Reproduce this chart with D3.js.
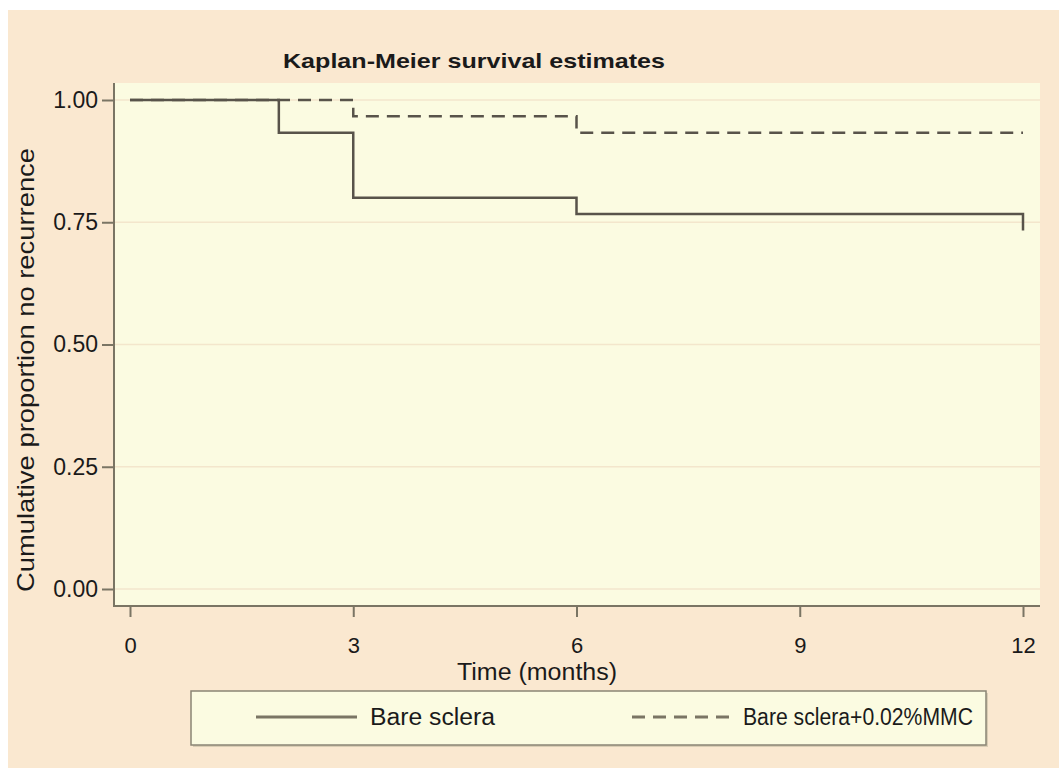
<!DOCTYPE html>
<html>
<head>
<meta charset="utf-8">
<script src="https://cdn.jsdelivr.net/npm/d3@7"></script>
<style>
  body { margin: 0; background: #fff; }
  text { font-family: "Liberation Sans", Arial, sans-serif; fill: #1a1a1a; }
</style>
</head>
<body>
<div id="chart-area"></div>
<script>
// Kaplan-Meier step data (time in months, proportion with no recurrence)
const bareTimes = [0, 2, 3, 6, 12];
const bareSurv = [1, 0.933, 0.8, 0.767, 0.733];
const mmcTimes = [0, 3, 6, 12];
const mmcSurv = [1, 0.967, 0.933, 0.933];

const xTicks = [0, 3, 6, 9, 12];
const yTicks = [0, 0.25, 0.5, 0.75, 1];
const seriesNames = ["Bare sclera", "Bare sclera+0.02%MMC"];

let svgW = 1059;
let svgH = 771;

let plot = { left: 114, right: 1040, top: 83, bottom: 606 };

let x = d3.scaleLinear().domain([0, 12]).range([130, 1023]);
let y = d3.scaleLinear().domain([0, 1]).range([589, 100]);

let svg = d3.select("#chart-area")
  .append("svg")
  .attr("width", svgW)
  .attr("height", svgH)

// outer background
svg.append("rect")
  .attr("x", 8).attr("y", 10)
  .attr("width", svgW - 8).attr("height", svgH - 13)
  .attr("fill", "#fae8d0")

// plot region
svg.append("rect")
  .attr("x", plot.left).attr("y", plot.top)
  .attr("width", plot.right - plot.left).attr("height", plot.bottom - plot.top)
  .attr("fill", "#fbfbe1")

// gridlines
svg.append("g").selectAll("line")
  .data(yTicks)
  .join("line")
  .attr("x1", plot.left).attr("x2", plot.right)
  .attr("y1", d => y(d)).attr("y2", d => y(d))
  .attr("stroke", "#f3e6cc")
  .attr("stroke-width", 1.5)

// title
svg.append("text")
  .attr("x", 283).attr("y", 68)
  .attr("font-size", 21)
  .attr("font-weight", "bold")
  .attr("textLength", 382)
  .attr("lengthAdjust", "spacingAndGlyphs")
  .text("Kaplan-Meier survival estimates")

// y axis
let yAxis = d3.axisLeft(y)
  .tickValues(yTicks)
  .tickFormat(d3.format(".2f"))
  .tickSize(12)
  .tickPadding(4)

let gy = svg.append("g")
  .attr("transform", `translate(${plot.left},0)`)
  .call(yAxis)
gy.select(".domain").remove()
gy.selectAll(".tick line").attr("stroke", "#7a7564").attr("stroke-width", 2)
gy.selectAll(".tick text").attr("font-size", 23).attr("fill", "#1a1a1a")

// x axis
let xAxis = d3.axisBottom(x)
  .tickValues(xTicks)
  .tickSize(11)
  .tickPadding(20)

let gx = svg.append("g")
  .attr("transform", `translate(0,${plot.bottom})`)
  .call(xAxis)
gx.select(".domain").remove()
gx.selectAll(".tick line").attr("stroke", "#7a7564").attr("stroke-width", 2)
gx.selectAll(".tick text").attr("font-size", 22).attr("fill", "#1a1a1a")

// axis frame lines
svg.append("path")
  .attr("d", `M${plot.left},${plot.top}V${plot.bottom}H${plot.right}`)
  .attr("fill", "none")
  .attr("stroke", "#7a7564")
  .attr("stroke-width", 2)

// axis titles
svg.append("text")
  .attr("transform", `translate(34,370) rotate(-90)`)
  .attr("text-anchor", "middle")
  .attr("font-size", 24)
  .attr("textLength", 444)
  .attr("lengthAdjust", "spacingAndGlyphs")
  .text("Cumulative proportion no recurrence")

svg.append("text")
  .attr("x", 537).attr("y", 680)
  .attr("text-anchor", "middle")
  .attr("font-size", 23)
  .attr("textLength", 160)
  .attr("lengthAdjust", "spacingAndGlyphs")
  .text("Time (months)")

// survival curves
const line = d3.line()
  .x(d => x(d[0]))
  .y(d => y(d[1]))
  .curve(d3.curveStepAfter)

svg.append("path")
  .datum(bareTimes.map((t, i) => [t, bareSurv[i]]))
  .attr("d", line)
  .attr("fill", "none")
  .attr("stroke", "#58534a")
  .attr("stroke-width", 2.5)

svg.append("path")
  .datum(mmcTimes.map((t, i) => [t, mmcSurv[i]]))
  .attr("d", line)
  .attr("fill", "none")
  .attr("stroke", "#58534a")
  .attr("stroke-width", 2.5)
  .attr("stroke-dasharray", "13,8")

// legend
let legend = svg.append("g")

legend.append("rect")
  .attr("x", 193).attr("y", 693)
  .attr("width", 795).attr("height", 54)
  .attr("fill", "#d9cdb4")

legend.append("rect")
  .attr("x", 191).attr("y", 691)
  .attr("width", 795).attr("height", 54)
  .attr("fill", "#fbfbe1")
  .attr("stroke", "#8a8574")
  .attr("stroke-width", 1.5)

let legendItems = [
  { name: seriesNames[0], x1: 256, x2: 357, tx: 370, w: 125, dash: null },
  { name: seriesNames[1], x1: 632, x2: 733, tx: 743, w: 230, dash: "13,8" }
]

legend.selectAll("line.key")
  .data(legendItems)
  .join("line")
  .attr("class", "key")
  .attr("x1", d => d.x1).attr("x2", d => d.x2)
  .attr("y1", 717).attr("y2", 717)
  .attr("stroke", "#7a7564")
  .attr("stroke-width", 3)
  .attr("stroke-dasharray", d => d.dash)

legend.selectAll("text.label")
  .data(legendItems)
  .join("text")
  .attr("class", "label")
  .attr("x", d => d.tx).attr("y", 725)
  .attr("font-size", 23)
  .attr("textLength", d => d.w)
  .attr("lengthAdjust", "spacingAndGlyphs")
  .text(d => d.name)
</script>
</body>
</html>
